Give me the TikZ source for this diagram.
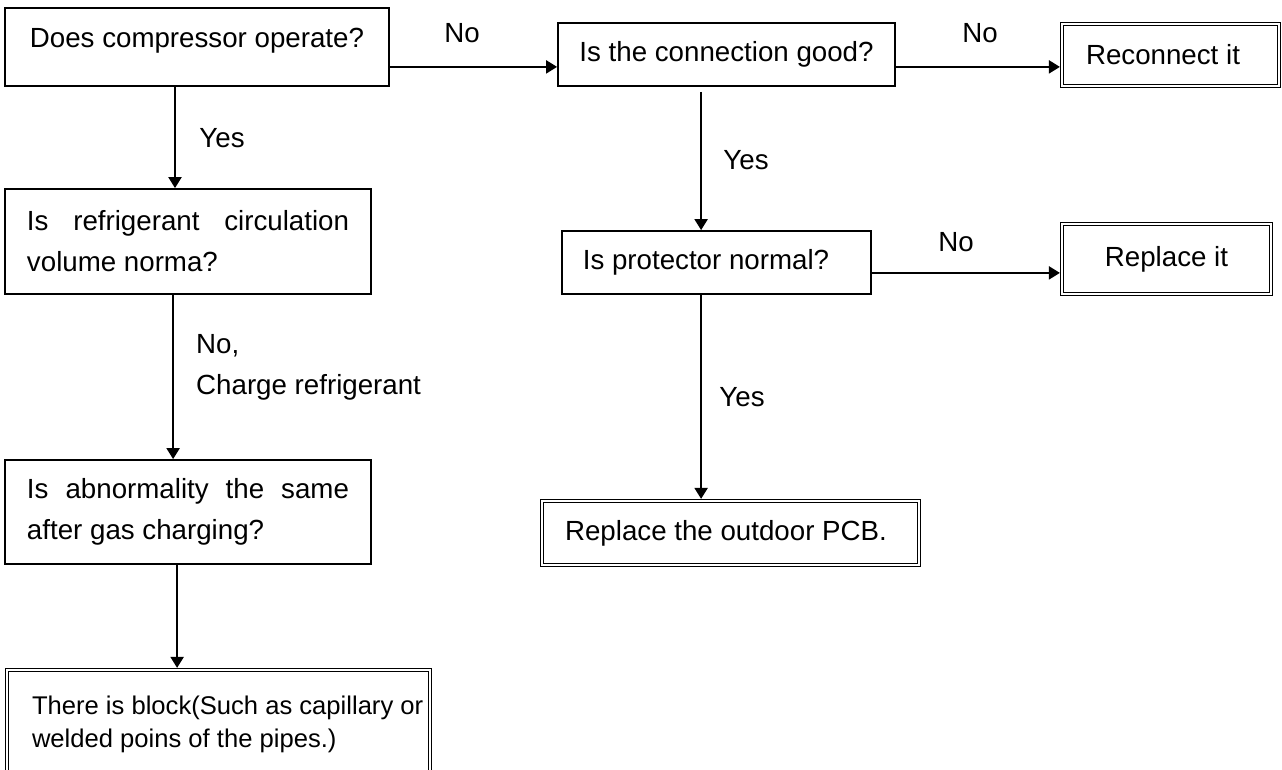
\documentclass[tikz,border=0pt]{standalone}
\usepackage{fontspec}
\setmainfont{Liberation Sans}
\usetikzlibrary{arrows.meta}
\begin{document}
\begin{tikzpicture}[x=1pt,y=-1pt,
  every node/.style={font=\fontsize{27.7}{41}\selectfont, inner sep=0pt},
  box/.style={draw, line width=1.8pt, rectangle},
  dbox/.style={draw, line width=1.1pt, double, double distance=2pt, rectangle, outer sep=2.1pt},
  arr/.style={line width=2.1pt, -{Triangle[length=11pt,width=13pt]}}
]
\clip (0,0) rectangle (1282,769);
\fill[white] (0,0) rectangle (1282,769);
% boxes
\node[box, minimum width=384pt, minimum height=78pt, text depth=18pt] (A) at (197,47) {Does compressor operate?};
\node[box, minimum width=337pt, minimum height=63pt] (B) at (726.5,54.5) {Is the connection good?};
\node[dbox, minimum width=217pt, minimum height=62pt] (C) at (1170.5,55) {Reconnect it\hspace*{15pt}};
\node[box, minimum width=309pt, minimum height=63pt] (P) at (716.5,262.5) {Is protector normal?\hspace*{21pt}};
\node[dbox, minimum width=209pt, minimum height=70pt] (R) at (1166.5,259) {Replace it};
\node[dbox, minimum width=377pt, minimum height=64pt] (PCB) at (730.5,533) {Replace the outdoor PCB.\hspace*{9pt}};
\node[box, minimum width=366pt, minimum height=105pt, align=left] (D) at (188,241.5)
  {\makebox[322pt][s]{Is refrigerant circulation}\\volume norma?};
\node[box, minimum width=366pt, minimum height=104pt, align=left] (E) at (188,512)
  {\makebox[322pt][s]{Is abnormality the same}\\after gas charging?};
\node[dbox, minimum width=423pt, minimum height=108pt, align=left,
  font=\fontsize{25.6}{33}\selectfont] (F) at (218.5,724)
  {\hspace*{25pt}\makebox[398pt][l]{There is block(Such as capillary or}\\
   \hspace*{25pt}\makebox[398pt][l]{welded poins of the pipes.)}};
% connectors
\draw[arr] ([yshift=20pt]A.south east) coordinate (a1) -- (a1 -| B.west);
\draw[arr] ([xshift=-22pt]A.south) coordinate (a2) -- (a2 |- D.north);
\draw[arr] ([yshift=20pt]B.south east) coordinate (b1) -- (b1 -| C.west);
\draw[arr] ([xshift=144pt,yshift=-5pt]B.south west) coordinate (b2) -- (b2 |- P.north);
\draw[arr] ([yshift=22pt]P.south east) coordinate (p1) -- (p1 -| R.west);
\draw[arr] ([xshift=140pt]P.south west) coordinate (p2) -- (p2 |- PCB.north);
\draw[arr] ([xshift=169pt]D.south west) coordinate (d1) -- (d1 |- E.north);
\draw[arr] ([xshift=173pt]E.south west) coordinate (e1) -- (e1 |- F.north);
% labels
\node (n1) at (462,33) {No};
\node (n2) at (980,33) {No};
\node (n3) at (956,242) {No};
\node (y1) at (222,138) {Yes};
\node (y2) at (746,160) {Yes};
\node (y3) at (742,397) {Yes};
\node[anchor=west, align=left] (n4) at (196,367.5) {No,\\Charge refrigerant};
\end{tikzpicture}
\end{document}
